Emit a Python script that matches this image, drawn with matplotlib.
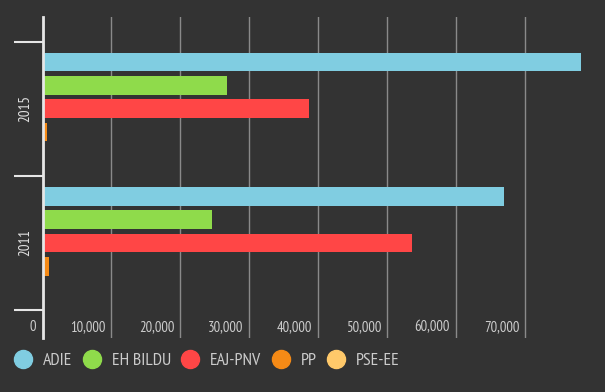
import matplotlib
matplotlib.use("Agg")
import matplotlib.pyplot as plt
import numpy as np
from matplotlib.lines import Line2D
from matplotlib.transforms import ScaledTranslation

# ── data ─────────────────────────────────────────────────────────────────────
YEARS   = ["2015", "2011"]
PARTIES = ["ADIE", "EH BILDU", "EAJ-PNV", "PP", "PSE-EE"]
VOTES_2015 = [78100, 26700, 38600, 600, 0]
VOTES_2011 = [67000, 24600, 53600, 950, 0]
XTICKS  = [0, 10000, 20000, 30000, 40000, 50000, 60000, 70000]
COLORS  = ["#80CDE1", "#8FDB4B", "#FF4646", "#F58A16", "#FFC96A"]

BG    = "#333333"
TEXT  = "#CCCCCC"
GRID  = "#8A8A8A"
AXIS  = "#E6E6E6"

plt.rcParams["font.family"] = ["PT Sans Narrow", "DejaVu Sans"]

fig = plt.figure(figsize=(6.05, 3.92), dpi=100, facecolor=BG)
ax = fig.add_axes([42.5/605, 1-338/392, 1-42.5/605, (338-17)/392])
ax.set_facecolor(BG)

values = np.array([VOTES_2015, VOTES_2011])
y = np.arange(len(YEARS))
pitch, h = 0.174, 0.139
for i, c in enumerate(COLORS):
    ax.barh(y + (i - 2) * pitch, values[:, i], height=h, color=c, zorder=3)

ax.set_xlim(0, 81600)
ax.set_ylim(1.5 + 28/134, -0.5 - 24.7/134)

# grid + x labels, drawn inside the plot just left of each gridline
ax.set_xticks(XTICKS)
ax.tick_params(axis="x", length=0, labelbottom=False)
ax.grid(axis="x", color=GRID, lw=1, zorder=1)
shift = ScaledTranslation(-6/100, 0, fig.dpi_scale_trans)
for v in XTICKS:
    ax.text(v, (338-331)/(338-17), f"{v:,}", ha="right", va="baseline",
            color=TEXT, fontsize=10.6, transform=ax.get_xaxis_transform() + shift)

# y axis: year labels + boundary ticks
ax.set_yticks(y, YEARS, rotation=90, va="center")
ax.tick_params(axis="y", which="major", length=0, pad=7.5,
               labelcolor="#E0E0E0", labelsize=10.8)
ax.set_yticks([-0.5, 0.5, 1.5], minor=True)
ax.tick_params(axis="y", which="minor", length=21, width=1.5, color=AXIS)

for s in ["top", "right", "bottom"]:
    ax.spines[s].set_visible(False)
ax.spines["left"].set_color(AXIS)
ax.spines["left"].set_linewidth(2.0)
ax.spines["left"].set_zorder(4)

handles = [Line2D([], [], marker="o", ls="", ms=13, color=c, label=p)
           for p, c in zip(PARTIES, COLORS)]
fig.legend(handles=handles, loc="center left", bbox_to_anchor=(14/605, 1-360.7/392),
           ncol=5, frameon=False, fontsize=12.8, labelcolor=TEXT,
           handlelength=1.05, handletextpad=0.6, columnspacing=0.55,
           borderpad=0, borderaxespad=0)

fig.savefig("out.png", dpi=100, facecolor=BG)
